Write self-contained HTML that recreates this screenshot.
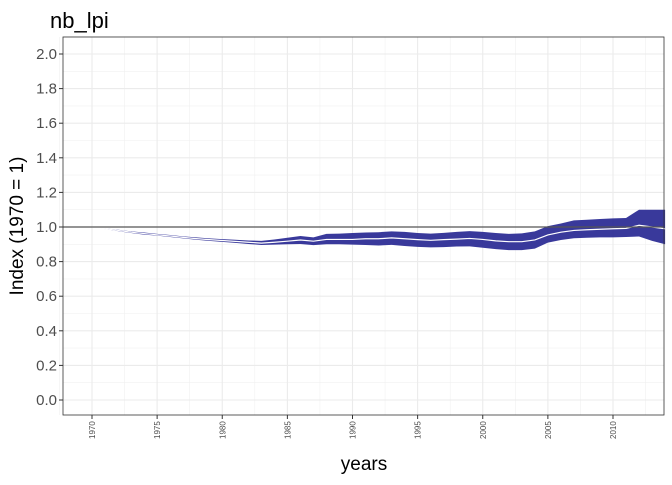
<!DOCTYPE html>
<html><head><meta charset="utf-8"><style>
body{margin:0;background:#fff;font-family:"Liberation Sans",sans-serif}
</style></head><body>
<svg id="chart" width="672" height="480" xmlns="http://www.w3.org/2000/svg" font-family="Liberation Sans, sans-serif">
<text x="50" y="28" font-size="22" fill="#000">nb_lpi</text>
<g id="grid"></g><g id="band"></g><g id="axes"></g>
<text x="364" y="470" font-size="19" text-anchor="middle">years</text>
<text transform="translate(23,226) rotate(-90)" font-size="19" text-anchor="middle">Index (1970 = 1)</text>
</svg>
<script>
const years=[1970,1971,1972,1973,1974,1975,1976,1977,1978,1979,1980,1981,1982,1983,1984,1985,1986,1987,1988,1989,1990,1991,1992,1993,1994,1995,1996,1997,1998,1999,2000,2001,2002,2003,2004,2005,2006,2007,2008,2009,2010,2011,2012,2013,2014];
const meanVals=[1,.99,.98,.97,.962,.955,.948,.94,.933,.927,.922,.917,.912,.907,.912,.918,.925,.918,.928,.928,.928,.932,.932,.937,.932,.927,.923,.927,.93,.934,.928,.92,.915,.915,.925,.954,.97,.98,.984,.987,.99,.992,1.01,1.0,.99];
const lowVals=[1,.988,.976,.965,.956,.95,.942,.934,.926,.92,.914,.908,.902,.896,.898,.9,.902,.895,.9,.9,.898,.896,.893,.897,.89,.885,.882,.884,.887,.888,.88,.872,.866,.866,.875,.91,.925,.935,.938,.94,.94,.942,.945,.92,.9];
const highVals=[1,.992,.984,.975,.968,.96,.954,.946,.94,.934,.93,.926,.922,.92,.928,.938,.948,.94,.96,.962,.965,.968,.97,.975,.972,.965,.962,.966,.972,.976,.972,.965,.96,.963,.975,1.005,1.02,1.038,1.042,1.046,1.05,1.052,1.1,1.1,1.1];
const yTicks=[0,0.2,0.4,0.6,0.8,1.0,1.2,1.4,1.6,1.8,2.0];
const xTicks=[1970,1975,1980,1985,1990,1995,2000,2005,2010];
const NS="http://www.w3.org/2000/svg";
const L=63,R=664,T=37,B=415;
const x=v=>92+(v-1970)*13.025;
const y=v=>400-v*173;
function mk(p,t,a){const e=document.createElementNS(NS,t);for(const k in a)e.setAttribute(k,a[k]);p.appendChild(e);return e;}
const g=document.getElementById('grid'),bd=document.getElementById('band'),ax=document.getElementById('axes');
for(let v=0.1;v<2.1;v+=0.2){const l=mk(g,'line',{x1:L,x2:R,y1:y(v),y2:y(v),stroke:'#f0f0f0','stroke-width':0.6});

}
for(const t of xTicks){const l=mk(g,'line',{x1:x(t+2.5),x2:x(t+2.5),y1:T,y2:B,stroke:'#f0f0f0','stroke-width':0.6});

}
mk(g,'line',{x1:x(1967.5),x2:x(1967.5),y1:T,y2:B,stroke:'#f0f0f0','stroke-width':0.6});
for(const t of yTicks){const l=mk(g,'line',{x1:L,x2:R,y1:y(t),y2:y(t),stroke:'#ebebeb','stroke-width':1.1});


const tx=mk(ax,'text',{x:57,y:y(t)+5,'font-size':15,'text-anchor':'end',fill:'#4d4d4d'});tx.textContent=t.toFixed(1);


mk(ax,'line',{x1:L-4,x2:L,y1:y(t),y2:y(t),stroke:'#333'});}
for(const t of xTicks){const l=mk(g,'line',{x1:x(t),x2:x(t),y1:T,y2:B,stroke:'#ebebeb','stroke-width':1.1});


mk(ax,'line',{x1:x(t),x2:x(t),y1:B,y2:B+4,stroke:'#333'});
const tx=mk(ax,'text',{transform:`translate(${x(t)+3},${B+24}) rotate(-90)`,'font-size':8,fill:'#4d4d4d'});tx.textContent=t;

}
let d='M'+years.map((yr,i)=>x(yr)+','+y(highVals[i])).join('L');
for(let i=years.length-1;i>=0;i--)d+='L'+x(years[i])+','+y(lowVals[i]);
const band=mk(bd,'path',{d:d+'Z',fill:'#2e2e96','fill-opacity':0.95});


const ml=mk(bd,'path',{d:'M'+years.map((yr,i)=>x(yr)+','+y(meanVals[i])).join('L'),fill:'none',stroke:'#fff','stroke-width':1.2});


const ref=mk(bd,'line',{x1:L,x2:R,y1:y(1),y2:y(1),stroke:'#555','stroke-width':1.3});


const fr=mk(ax,'rect',{x:L,y:T,width:R-L,height:B-T,fill:'none',stroke:'#333','stroke-width':0.8});


</script>
</body></html>
